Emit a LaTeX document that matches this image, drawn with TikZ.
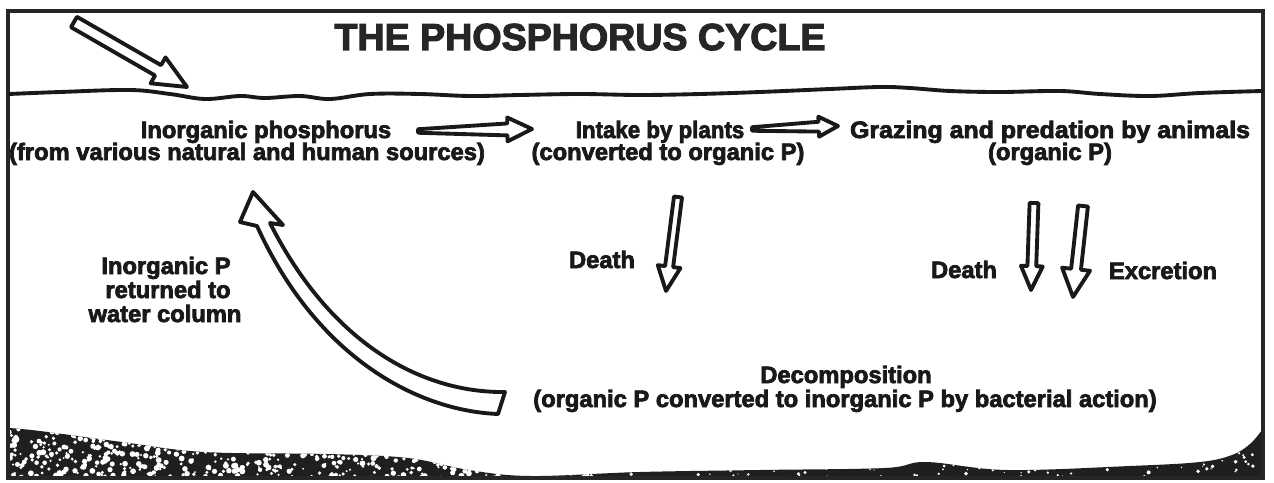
\documentclass[tikz,border=0pt]{standalone}
\usepackage{fontspec}
\setmainfont{Liberation Sans}[BoldFeatures={FakeBold=3}]
\usetikzlibrary{calc}
\tikzset{
  lbl/.style={font=\fontsize{13.5}{13}\selectfont\bfseries, inner sep=0pt, anchor=base, text=black!90},
  ttl/.style={font=\fontsize{21.4}{22}\selectfont\bfseries, inner sep=0pt, anchor=base, text=black!85},
  harrow/.style={draw=black!90, line width=2.2pt, line join=round, fill=white},
  water/.style={draw=black!90, line width=2.2pt, line cap=round},
  frameline/.style={draw=black!85, line width=1.8pt},
}
\newcommand{\blockarrow}[6]{%
  \coordinate (ba-h) at ($(#2)!#6!(#1)$);
  \draw[harrow] ($(#1)!#3!90:(#2)$) -- ($(ba-h)!#4!90:(#2)$) -- ($(ba-h)!#5!90:(#2)$) -- (#2)
     -- ($(ba-h)!#5!-90:(#2)$) -- ($(ba-h)!#4!-90:(#2)$) -- ($(#1)!#3!-90:(#2)$) -- cycle;
}
\begin{document}
\begin{tikzpicture}[x=0.02cm,y=-0.02cm]
\useasboundingbox (0,0) rectangle (1274,483);
\fill[white] (0,0) rectangle (1274,483);

% sediment
\begin{scope}
\clip plot[smooth, tension=0.6] coordinates {(9,428) (40,431) (122,442) (204,452) (327,454) (408,458) (469,470) (531,476) (640,472) (760,470) (885,468) (926,462) (1007,470) (1130,466) (1200,462) (1232,455) (1250,444) (1262,430)} -- (1262,478) -- (9,478) -- cycle;
\fill[black!88] (0,400) rectangle (1274,483);
\pgfmathsetseed{7}
\foreach \i in {1,...,800}{
  \pgfmathsetmacro{\xx}{9+rnd*600}
  \pgfmathsetmacro{\yy}{425+rnd*55}
  \pgfmathsetmacro{\rr}{1.0+rnd*2.0}
  \fill[white] (\xx,\yy) circle[radius=\rr];
}
\foreach \i in {1,...,300}{
  \pgfmathsetmacro{\xx}{600+rnd*662}
  \pgfmathsetmacro{\yy}{430+rnd*50}
  \pgfmathsetmacro{\rr}{0.6+rnd*1.4}
  \fill[white] (\xx,\yy) circle[radius=\rr];
}
\end{scope}

% frame
\draw[frameline] (8,11) rectangle (1263,478);

% water surface
\draw[water] plot[smooth, tension=0.6] coordinates {(9,94) (60,92) (130,90) (170,94) (205,99) (240,96) (265,98) (300,96) (330,99) (370,94) (420,94) (470,96) (520,95) (580,94) (640,95) (700,94) (760,92) (830,89) (880,87) (910,88) (950,91) (1000,92) (1060,91) (1100,94) (1150,96) (1200,93) (1262,91)};

% title
\node[ttl] (title) at (580,50) {THE PHOSPHORUS CYCLE};

% labels
\node[lbl] (inorgA) at (266,138) {Inorganic phosphorus};
\node[lbl] (inorgB) at (247,160) {(from various natural and human sources)};
\node[lbl] (intakeA) at (660,138) {\scalebox{0.94}[1]{Intake by plants}};
\node[lbl] (intakeB) at (668,160) {(converted to organic P)};
\node[lbl] (grazeA) at (1050,138) {\scalebox{1.05}[1]{Grazing and predation by animals}};
\node[lbl] (grazeB) at (1050,160) {(organic P)};
\node[lbl] (deathA) at (602,268) {Death};
\node[lbl] (deathB) at (964,278) {Death};
\node[lbl] (excr) at (1163,279) {Excretion};
\node[lbl] (retA) at (166,274) {Inorganic P};
\node[lbl] (retB) at (168,298) {returned to};
\node[lbl] (retC) at (165,322) {water column};
\node[lbl] (decA) at (846,383) {Decomposition};
\node[lbl] (decB) at (845,407) {(organic P converted to inorganic P by bacterial action)};

% arrows
\coordinate (sunA) at (74,22);
\coordinate (sunB) at (187,87);
\blockarrow{sunA}{sunB}{3.4pt}{3.4pt}{8.5pt}{19pt}

\coordinate (a1s) at (418,131);
\coordinate (a1e) at (532,129);
\blockarrow{a1s}{a1e}{1pt}{3.4pt}{6.8pt}{14pt}

\coordinate (a2s) at (752,129);
\coordinate (a2e) at (838,126);
\blockarrow{a2s}{a2e}{1pt}{2.8pt}{5.7pt}{11pt}

\coordinate (d1s) at (678,197);
\coordinate (d1e) at (666,291);
\blockarrow{d1s}{d1e}{2.3pt}{2.3pt}{6.5pt}{14pt}

\coordinate (d2s) at (1034,203);
\coordinate (d2e) at (1031,290);
\blockarrow{d2s}{d2e}{2.5pt}{2.5pt}{6.2pt}{13.6pt}

\coordinate (exs) at (1083,206);
\coordinate (exe) at (1073,297);
\blockarrow{exs}{exe}{2.8pt}{2.8pt}{8pt}{15.9pt}

% decomposition return arrow
\coordinate (retTail) at (505,392);
\coordinate (retTip) at (253,192);
\draw[harrow] (retTail) .. controls (420,393) and (330,342) .. (270,223) -- (283,225) -- (retTip) -- (240,222) -- (257,226) .. controls (318,360) and (420,411) .. (498,414) -- cycle;
\end{tikzpicture}
\end{document}
